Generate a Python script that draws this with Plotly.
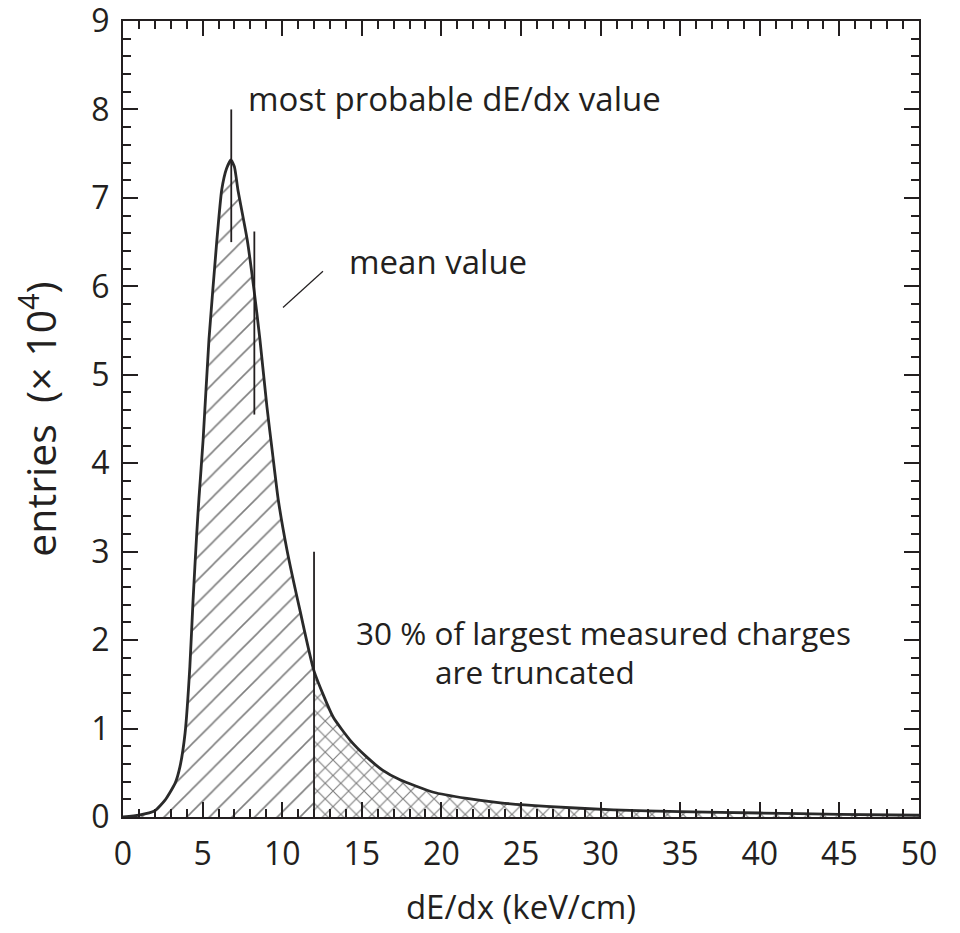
import plotly.graph_objects as go

# ---- data ----
dedx = [0, 1, 2, 2.64, 3.27, 3.58, 3.9, 4.2, 4.4, 4.63, 4.77, 5.03, 5.4, 5.9, 6.2, 6.5,
        6.78, 7.0, 7.22, 7.8, 8.23, 8.6, 9.04, 9.4, 9.75, 10.3, 11.1, 12.0,
        13.2, 14.26, 15.3, 16.3, 17.4, 19.5, 21.6, 23.7, 26.6, 30.8, 35, 40, 45, 50]
entries = [0, 0.02, 0.07, 0.19, 0.38, 0.57, 0.95, 1.7, 2.45, 3.2, 3.6, 4.26, 5.4, 6.53, 7.09, 7.33,
           7.43, 7.35, 7.09, 6.53, 5.96, 5.4, 4.64, 4.1, 3.59, 3.02, 2.35, 1.65,
           1.13, 0.87, 0.68, 0.53, 0.42, 0.28, 0.21, 0.16, 0.12, 0.08, 0.06, 0.045, 0.03, 0.02]

truncation_x = 12.0
most_probable_x = 6.8
mean_x = 8.25

x_ticks = [0, 5, 10, 15, 20, 25, 30, 35, 40, 45, 50]
y_ticks = [0, 1, 2, 3, 4, 5, 6, 7, 8, 9]

INK = "#231f20"
FONT = "Open Sans"
SMOOTH = 0.5

left_x = [x for x in dedx if x <= truncation_x]
left_y = [y for x, y in zip(dedx, entries) if x <= truncation_x]
right_x = [x for x in dedx if x >= truncation_x]
right_y = [y for x, y in zip(dedx, entries) if x >= truncation_x]

fig = go.Figure()
fig.add_trace(go.Scatter(
    x=left_x, y=left_y, mode="lines", line=dict(width=0, shape="spline", smoothing=SMOOTH),
    fill="tozeroy", fillcolor="rgba(0,0,0,0)",
    fillpattern=dict(shape="/", fgcolor="#000000", bgcolor="white", size=16, solidity=0.1),
    hoverinfo="skip", showlegend=False))
fig.add_trace(go.Scatter(
    x=right_x, y=right_y, mode="lines", line=dict(width=0, shape="spline", smoothing=SMOOTH),
    fill="tozeroy", fillcolor="rgba(0,0,0,0)",
    fillpattern=dict(shape="x", fgcolor="#000000", bgcolor="white", size=11, solidity=0.2),
    hoverinfo="skip", showlegend=False))
fig.add_trace(go.Scatter(
    x=dedx, y=entries, mode="lines",
    line=dict(color="#2a2a2a", width=2.8, shape="spline", smoothing=SMOOTH),
    hoverinfo="skip", showlegend=False))

# marker lines
fig.add_trace(go.Scatter(x=[most_probable_x, most_probable_x], y=[6.5, 8.0], mode="lines",
                         line=dict(color=INK, width=1.8), showlegend=False, hoverinfo="skip"))
fig.add_trace(go.Scatter(x=[mean_x, mean_x], y=[4.55, 6.62], mode="lines",
                         line=dict(color=INK, width=1.8), showlegend=False, hoverinfo="skip"))
fig.add_trace(go.Scatter(x=[10.05, 12.56], y=[5.76, 6.17], mode="lines",
                         line=dict(color=INK, width=1.2), showlegend=False, hoverinfo="skip"))
fig.add_trace(go.Scatter(x=[truncation_x, truncation_x], y=[0, 3.0], mode="lines",
                         line=dict(color=INK, width=1.8), showlegend=False, hoverinfo="skip"))

big_font = dict(family=FONT, size=33, color=INK)
ann_font = dict(family=FONT, size=31.5, color=INK)
fig.add_annotation(x=7.7, y=8.12, text="most probable dE/dx value", showarrow=False,
                   xanchor="left", yanchor="middle", font=big_font)
fig.add_annotation(x=14.1, y=6.28, text="mean value", showarrow=False,
                   xanchor="left", yanchor="middle", font=big_font)
fig.add_annotation(x=14.5, y=2.09, text="30 % of largest measured charges", showarrow=False,
                   xanchor="left", yanchor="middle", font=ann_font)
fig.add_annotation(x=19.45, y=1.65, text="are truncated", showarrow=False,
                   xanchor="left", yanchor="middle", font=ann_font)

axis_common = dict(
    showgrid=False, zeroline=False, showline=True, linecolor=INK, linewidth=2,
    mirror="ticks", ticks="inside", ticklen=15, tickwidth=2, tickcolor=INK,
    tickfont=dict(family=FONT, size=32, color=INK), automargin=False,
    ticklabeloverflow="allow",
)
fig.update_xaxes(range=[0, 50], tickvals=x_ticks, ticktext=[str(v) for v in x_ticks],
                 minor=dict(dtick=1, ticks="inside", ticklen=8, tickwidth=1.6, tickcolor=INK),
                 ticklabelstandoff=8,
                 title=dict(text="dE/dx (keV/cm)", font=dict(family=FONT, size=33, color=INK),
                            standoff=22),
                 **axis_common)
fig.update_yaxes(range=[0, 9], tickvals=y_ticks, ticktext=[str(v) for v in y_ticks],
                 minor=dict(dtick=0.2, ticks="inside", ticklen=8, tickwidth=1.6, tickcolor=INK),
                 ticklabelstandoff=5,
                 title=dict(text="entries  (× 10<sup>4</sup>)",
                            font=dict(family=FONT, size=41, color=INK), standoff=24),
                 **axis_common)

# the page adds an 8px body margin, so margins are offset accordingly
fig.update_layout(width=960, height=933, plot_bgcolor="white", paper_bgcolor="white",
                  margin=dict(l=115, r=49, t=13, b=124))

fig.write_html("out.html")
